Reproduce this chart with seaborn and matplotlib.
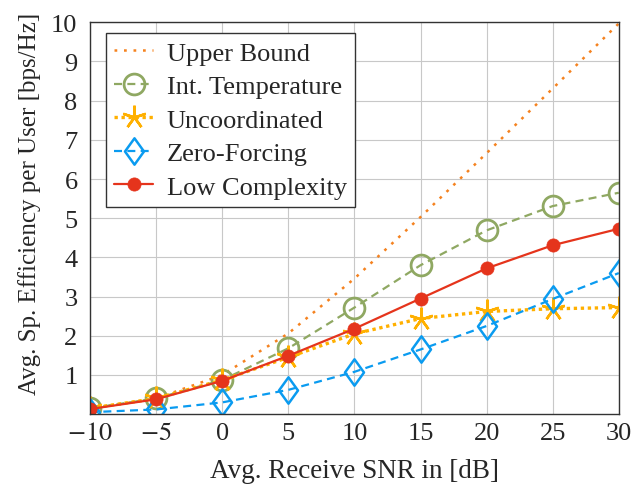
import matplotlib
matplotlib.use("Agg")
import matplotlib.pyplot as plt
from matplotlib.path import Path
import seaborn as sns
import pandas as pd

# =============================
# Data
# =============================
snr_db = [-10, -5, 0, 5, 10, 15, 20, 25, 30]

upper_bound = [0.14, 0.40, 1.00, 2.06, 3.46, 5.03, 6.66, 8.31, 9.97]
int_temperature = [0.15, 0.40, 0.87, 1.68, 2.72, 3.80, 4.69, 5.31, 5.65]
uncoordinated = [0.15, 0.40, 0.87, 1.45, 2.05, 2.44, 2.62, 2.69, 2.72]
zero_forcing = [0.05, 0.12, 0.30, 0.62, 1.08, 1.65, 2.25, 2.94, 3.60]
low_complexity = [0.13, 0.38, 0.85, 1.49, 2.18, 2.95, 3.72, 4.31, 4.73]

df = pd.DataFrame({
    "SNR": snr_db * 5,
    "SE": upper_bound + int_temperature + uncoordinated + zero_forcing + low_complexity,
    "Scheme": (["Upper Bound"] * 9 + ["Int. Temperature"] * 9 + ["Uncoordinated"] * 9
               + ["Zero-Forcing"] * 9 + ["Low Complexity"] * 9),
})

# =============================
# Style
# =============================
sns.set_style("whitegrid")
plt.rcParams["font.family"] = ["Liberation Serif", "DejaVu Serif"]
plt.rcParams["mathtext.fontset"] = "stix"

# tall pgfplots-like diamond
diamond = Path([(0, 1), (0.72, 0), (0, -1), (-0.72, 0), (0, 1)],
               [Path.MOVETO, Path.LINETO, Path.LINETO, Path.LINETO, Path.CLOSEPOLY])

c_ub, c_it, c_un, c_zf, c_lc = "#F5821F", "#8FA862", "#FFB000", "#0A9BF0", "#E5341C"

styles = {
    "Upper Bound": dict(color=c_ub, linestyle=(0, (1.1, 2.7)), linewidth=1.8, marker=None),
    "Int. Temperature": dict(color=c_it, linestyle=(0, (3.6, 2.4)), linewidth=1.6, marker="o",
                             markersize=15, markerfacecolor="none", markeredgecolor=c_it,
                             markeredgewidth=2.0),
    "Uncoordinated": dict(color=c_un, linestyle=(0, (1, 1.1)), linewidth=2.4, marker=(5, 2, 0),
                          markersize=17, markeredgecolor=c_un, markeredgewidth=1.8),
    "Zero-Forcing": dict(color=c_zf, linestyle=(0, (3.6, 2.4)), linewidth=1.6, marker=diamond,
                         markersize=19, markerfacecolor="none", markeredgecolor=c_zf,
                         markeredgewidth=1.8),
    "Low Complexity": dict(color=c_lc, linestyle="-", linewidth=1.6, marker="o",
                           markersize=9.5, markeredgecolor=c_lc, markeredgewidth=0.5),
}

fig = plt.figure(figsize=(6.34, 4.85), dpi=100)
ax = fig.add_axes([0.142, 0.144, 0.834, 0.808])

for name, st in styles.items():
    sub = df[df["Scheme"] == name]
    sns.lineplot(data=sub, x="SNR", y="SE", ax=ax, label=name, **st)

ax.set_xlim(-10, 30)
ax.set_ylim(0, 10)
ax.set_xticks(range(-10, 31, 5))
ax.set_xticklabels(["$-10$", "$-5$", "0", "5", "10", "15", "20", "25", "30"])
ax.set_yticks(range(1, 11))
ax.tick_params(labelsize=19, length=0)
ax.tick_params(axis="y", pad=9)
ax.tick_params(axis="x", pad=6)
ax.set_xlabel("Avg. Receive SNR in [dB]", fontsize=19.5, labelpad=10)
ax.set_ylabel("Avg. Sp. Efficiency per User [bps/Hz]", fontsize=18)
ax.yaxis.set_label_coords(-0.092, 0.54)

ax.grid(True, color="#C8C8C8", linewidth=0.8)
for sp in ax.spines.values():
    sp.set_color("#333333")
    sp.set_linewidth(1.0)

leg = ax.legend(loc="upper left", bbox_to_anchor=(0.030, 0.972), fontsize=19, frameon=True,
                fancybox=False, edgecolor="#333333", framealpha=1, borderpad=0.3,
                labelspacing=0.38, handlelength=1.5, handletextpad=0.5, borderaxespad=0)
leg.get_frame().set_linewidth(1.0)

plt.savefig("out.png", dpi=100)
